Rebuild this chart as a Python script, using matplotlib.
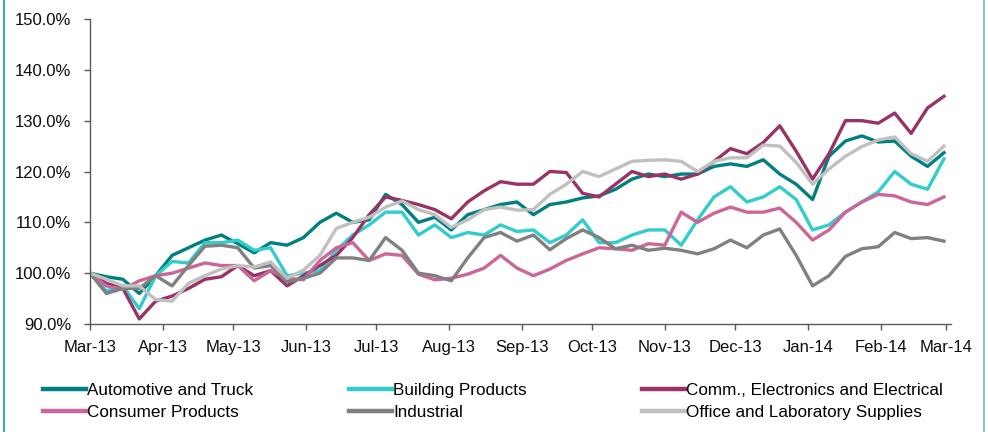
import matplotlib
matplotlib.use("Agg")
import matplotlib.pyplot as plt
import matplotlib.dates as mdates
from matplotlib.lines import Line2D
import pandas as pd

plt.rcParams['font.family'] = ['Liberation Sans', 'DejaVu Sans']

dates = pd.date_range('2013-03-01', periods=53, freq='7D')

automotive = [100, 99.3, 98.8, 96, 99.5, 103.5, 105, 106.5, 107.5, 105.8,
              104, 106, 105.5, 107, 110, 111.8, 110, 110.5, 115.5, 113.5,
              110, 111, 108.5, 111.5, 112.5, 113.5, 114, 111.5, 113.5, 114,
              114.8, 115.2, 116.5, 118.5, 119.5, 119, 119.5, 119.5, 121, 121.5,
              121, 122.3, 119.5, 117.5, 114.5, 123, 126, 127, 125.8, 126,
              123, 121, 123.7]
building = [100, 96.5, 97.5, 93, 99.5, 102.3, 102, 106, 106, 106.5,
            104.5, 105, 99.5, 100, 100.5, 104.5, 107.5, 109.5, 112, 112,
            107.5, 109.5, 107, 108, 107.5, 109.5, 108.2, 108.5, 106, 107.5,
            110.5, 106, 106, 107.5, 108.5, 108.5, 105.5, 110.5, 115, 117,
            114, 115, 117, 114.5, 108.5, 109.5, 112, 114, 116, 120,
            117.5, 116.5, 122.5]
comm = [100, 98, 97, 91, 94.5, 95.5, 97, 98.8, 99.3, 101.5,
        99.5, 100.5, 97.5, 99.5, 101.5, 103.5, 107, 111.5, 115, 114.3,
        113.5, 112.5, 110.7, 114, 116.2, 118, 117.5, 117.5, 120, 119.8,
        115.7, 115, 117.5, 120, 119, 119.5, 118.5, 119.5, 122, 124.5,
        123.5, 125.7, 129, 124, 118.5, 123.5, 130, 130, 129.5, 131.5,
        127.5, 132.5, 134.8]
consumer = [100, 97.5, 96.8, 98.5, 99.5, 100, 101, 102, 101.5, 101.5,
            98.5, 100.5, 99, 98.7, 102.5, 105, 106, 102.5, 103.8, 103.5,
            99.8, 98.7, 99, 99.8, 101, 103.5, 101, 99.5, 100.8, 102.5,
            103.8, 105, 104.8, 104.5, 105.8, 105.5, 112, 110, 111.8, 113,
            112, 112, 112.8, 110, 106.5, 108.5, 112, 114, 115.5, 115.2,
            114, 113.5, 115]
industrial = [100, 96, 97, 97, 99.5, 97.5, 101.5, 105.3, 105.5, 105,
              101, 101.5, 98.3, 99, 100, 103, 103, 102.5, 107, 104.5,
              100, 99.5, 98.5, 103, 107, 108, 106.3, 107.5, 104.6, 106.8,
              108.5, 107, 104.8, 105.5, 104.5, 104.9, 104.5, 103.8, 104.8, 106.5,
              105, 107.5, 108.7, 103.5, 97.5, 99.5, 103.3, 104.8, 105.2, 108,
              106.8, 107, 106.3]
office = [100, 98.8, 97.5, 97.5, 94.8, 94.5, 98, 99.5, 100.8, 101.5,
          101.2, 102.2, 99, 100.6, 103.5, 108.8, 110, 111, 113, 114.2,
          112.5, 111.5, 109, 110.5, 112.5, 113, 112.4, 112.5, 115.5, 117.5,
          120, 119, 120.5, 122, 122.2, 122.3, 122, 120, 122, 122.7,
          122.7, 125.2, 125, 121.8, 117.5, 120.5, 123, 124.9, 126.2, 126.8,
          123.5, 122, 125]

names = ['Automotive and Truck', 'Building Products',
         'Comm., Electronics and Electrical', 'Consumer Products',
         'Industrial', 'Office and Laboratory Supplies']
series = [automotive, building, comm, consumer, industrial, office]
colors = ['#00807f', '#33cccc', '#993366', '#cc6699', '#808080', '#c0c0c0']

yticks = [90, 100, 110, 120, 130, 140, 150]

fig = plt.figure(figsize=(9.88, 4.32), dpi=100)
ax = fig.add_axes([90 / 988, 1 - 324 / 432, (951 - 90) / 988, (324 - 19) / 432])

for vals, c, n in zip(series, colors, names):
    ax.plot(dates, vals, color=c, lw=2.4, label=n, solid_joinstyle='round')

ax.set_ylim(90, 150)
ax.set_yticks(yticks)
ax.set_yticklabels([f'{v:.1f}%' for v in yticks])
ax.set_xlim(pd.Timestamp('2013-03-01'), pd.Timestamp('2014-03-03'))
ax.xaxis.set_major_locator(mdates.MonthLocator())
ax.xaxis.set_major_formatter(mdates.DateFormatter('%b-%y'))

for s in ['top', 'right']:
    ax.spines[s].set_visible(False)
for s in ['left', 'bottom']:
    ax.spines[s].set_color('#595959')
    ax.spines[s].set_linewidth(1.0)
ax.tick_params(axis='both', direction='out', length=4.5, width=1.0,
               color='#595959', labelsize=12, labelcolor='#0d0d0d')
ax.tick_params(axis='y', pad=9)
ax.tick_params(axis='x', pad=7)

# legend: three columns placed manually
cols = [(43, [0, 3]), (349, [1, 4]), (642, [2, 5])]
for xpix, idx in cols:
    handles = [Line2D([], [], color=colors[i], lw=3.2) for i in idx]
    labels = [names[i] for i in idx]
    fig.legend(handles, labels, loc='upper left',
               bbox_to_anchor=(xpix / 988, 1 - 383 / 432),
               frameon=False, fontsize=12.3, handlelength=2.5,
               handletextpad=0.1, labelspacing=0.4,
               borderpad=0, borderaxespad=0)

# figure side borders
fig.add_artist(Line2D([3.5 / 988, 3.5 / 988], [0, 1], transform=fig.transFigure,
                      color='#2e9e9e', lw=1.3))
fig.add_artist(Line2D([983.5 / 988, 983.5 / 988], [0, 1], transform=fig.transFigure,
                      color='#80c4c4', lw=1.3))

fig.savefig('out.png', dpi=100)
